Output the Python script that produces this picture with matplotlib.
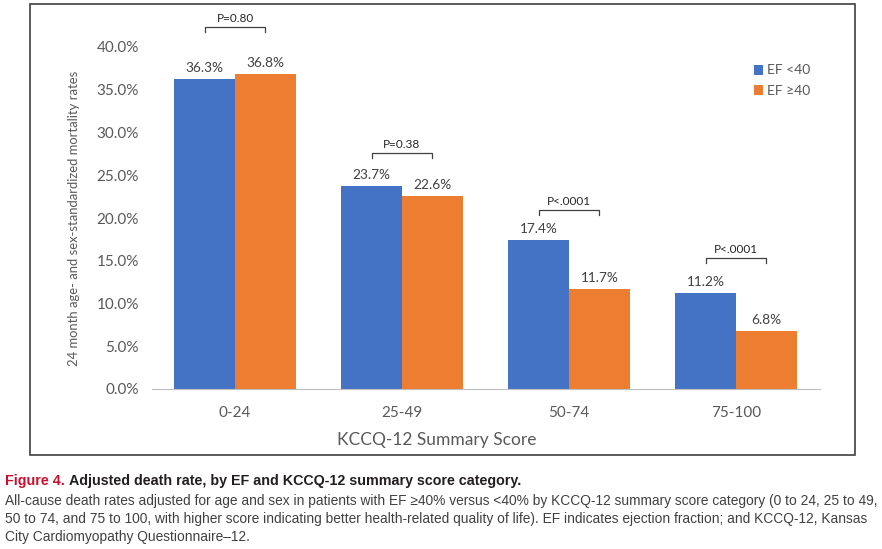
import matplotlib
matplotlib.use("Agg")
import matplotlib.pyplot as plt
from matplotlib.patches import Rectangle
from matplotlib.ticker import FuncFormatter

categories = ["0-24", "25-49", "50-74", "75-100"]
ef_lt40 = [36.3, 23.7, 17.4, 11.2]
ef_ge40 = [36.8, 22.6, 11.7, 6.8]
p_labels = ["P=0.80", "P=0.38", "P<.0001", "P<.0001"]
bracket_y = [42.3, 27.6, 20.9, 15.3]
yticks = [0, 5, 10, 15, 20, 25, 30, 35, 40]

BLUE = "#4472C4"
ORANGE = "#ED7D31"
GRAY = "#595959"
CHART_FONT = ["Lato", "DejaVu Sans"]
CAP_FONT = ["Liberation Sans", "DejaVu Sans"]

fig = plt.figure(figsize=(8.82, 5.49), dpi=100)
fig.patch.set_facecolor("white")

# outer frame
frame = Rectangle((30 / 882, 1 - 455 / 549), (855 - 30) / 882, (455 - 4) / 549,
                  transform=fig.transFigure, fill=False, edgecolor="#404040", lw=1.2)
fig.add_artist(frame)

ax = fig.add_axes([151.5 / 882, 1 - 389 / 549, 668 / 882, 342 / 549])
x = list(range(len(categories)))
w = 0.365
b1 = ax.bar([i - w / 2 for i in x], ef_lt40, width=w, color=BLUE, label="EF <40")
b2 = ax.bar([i + w / 2 for i in x], ef_ge40, width=w, color=ORANGE, label="EF \u226540")

ax.set_xlim(-0.5, len(categories) - 0.5)
ax.set_ylim(0, 40)
ax.set_yticks(yticks)
ax.yaxis.set_major_formatter(FuncFormatter(lambda v, p: f"{v:.1f}%"))
ax.set_xticks(x)
ax.set_xticklabels(categories)
for s in ["top", "right", "left"]:
    ax.spines[s].set_visible(False)
ax.spines["bottom"].set_color("#bfbfbf")
ax.tick_params(axis="both", length=0, colors=GRAY, labelsize=11)
ax.tick_params(axis="y", pad=9)
ax.tick_params(axis="x", pad=12)
for lab in ax.get_xticklabels() + ax.get_yticklabels():
    lab.set_family(CHART_FONT)

for bars, vals in ((b1, ef_lt40), (b2, ef_ge40)):
    for r, v in zip(bars, vals):
        ax.text(r.get_x() + r.get_width() / 2, v + 0.6, f"{v:.1f}%", ha="center",
                va="bottom", fontsize=9.8, color="#404040", family=CHART_FONT)

for i, (pl, by) in enumerate(zip(p_labels, bracket_y)):
    x0, x1 = i - w / 2, i + w / 2
    ax.plot([x0, x0, x1, x1], [by - 0.6, by, by, by - 0.6], color="#404040",
            lw=0.9, clip_on=False)
    ax.text(i, by + 0.35, pl, ha="center", va="bottom", fontsize=8.5,
            color="#262626", family=CHART_FONT, clip_on=False)

ax.set_ylabel("24 month age- and sex-standardized mortality rates", fontsize=9.4,
              color=GRAY, family=CHART_FONT, labelpad=12)
fig.text(437 / 882, 1 - 440 / 549, "KCCQ-12 Summary Score", ha="center", va="center",
         fontsize=12.5, color=GRAY, family=CHART_FONT)

leg = ax.legend(loc="upper left", bbox_to_anchor=(741 / 882, 1 - 52 / 549),
                bbox_transform=fig.transFigure, frameon=False,
                handlelength=0.7, handleheight=0.7, handletextpad=0.3,
                labelspacing=0.6, prop={"family": CHART_FONT, "size": 10})
for t in leg.get_texts():
    t.set_color(GRAY)

# caption
t1 = fig.text(5 / 882, 1 - 481 / 549, "Figure 4.", ha="left", va="center", fontsize=10.3,
              fontweight="bold", color="#C8102E", family=CAP_FONT)
fig.canvas.draw()
bb = t1.get_window_extent(fig.canvas.get_renderer())
fig.text((bb.x1 + 4) / 882, 1 - 481 / 549,
         "Adjusted death rate, by EF and KCCQ-12 summary score category.",
         ha="left", va="center", fontsize=10.3, fontweight="bold", color="#231F20",
         family=CAP_FONT)
body = ("All-cause death rates adjusted for age and sex in patients with EF \u226540% versus <40% by KCCQ-12 summary score category (0 to 24, 25 to 49,\n"
        "50 to 74, and 75 to 100, with higher score indicating better health-related quality of life). EF indicates ejection fraction; and KCCQ-12, Kansas\n"
        "City Cardiomyopathy Questionnaire\u201212.")
fig.text(5 / 882, 1 - 494 / 549, body, ha="left", va="top", fontsize=9.9,
         color="#404040", family=CAP_FONT, linespacing=1.35)

fig.savefig("out.png", dpi=100)
